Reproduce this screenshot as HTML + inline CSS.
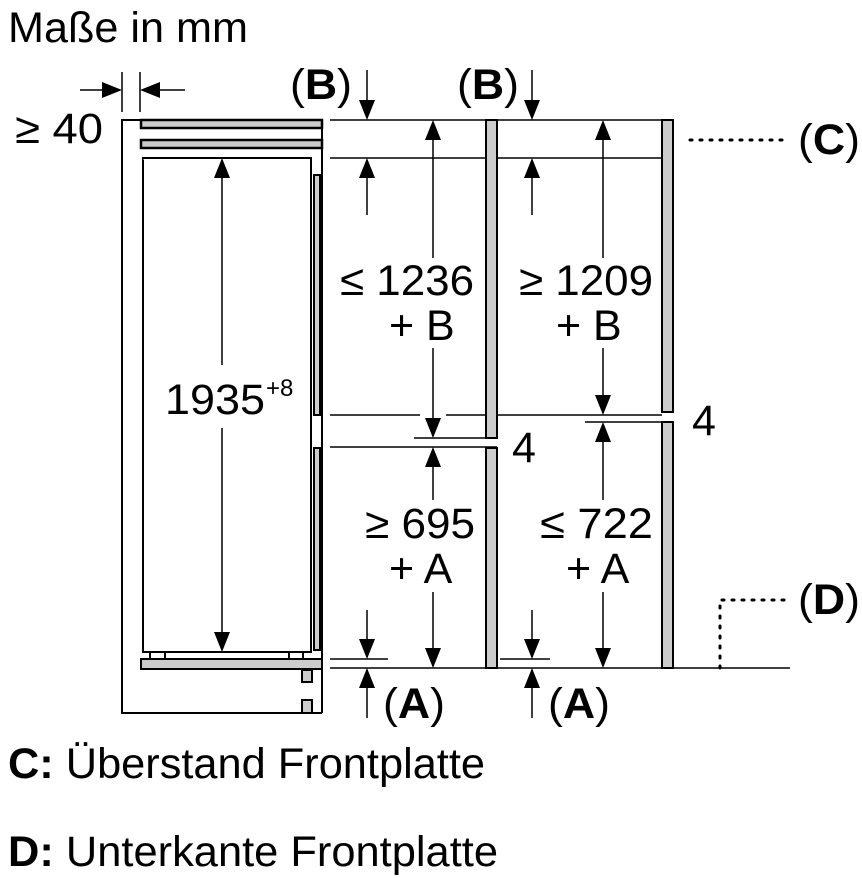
<!DOCTYPE html>
<html><head><meta charset="utf-8"><style>
html,body{margin:0;padding:0;background:#fff}
svg{display:block}
text{font-family:"Liberation Sans",sans-serif;fill:#000}
</style></head><body>
<svg width="862" height="878" viewBox="0 0 862 878" xmlns="http://www.w3.org/2000/svg">
<g stroke="#000" stroke-width="2" fill="none">
<path d="M322 120 H122 V713 H322"/>
<rect x="141" y="120" width="181" height="8" fill="#ccc" stroke-width="2.5"/>
<rect x="141" y="140" width="181" height="8" fill="#ccc" stroke-width="2.5"/>
<line x1="322" y1="120" x2="322" y2="713"/>
<rect x="143" y="158" width="168" height="494"/>
<rect x="314" y="175" width="6" height="240" fill="#ccc"/>
<rect x="314" y="448" width="6" height="202" fill="#ccc"/>
<rect x="150" y="652" width="15" height="7"/>
<rect x="289" y="652" width="14" height="7"/>
<rect x="141" y="659" width="181" height="10" fill="#ccc"/>
<rect x="302" y="670" width="10" height="12" fill="#ccc"/>
<rect x="302" y="700" width="10" height="13" fill="#ccc"/>
<line x1="122" y1="72" x2="122" y2="112" stroke-width="1.5"/>
<line x1="140" y1="72" x2="140" y2="112" stroke-width="1.5"/>
<line x1="80" y1="90" x2="120" y2="90" stroke-width="1.5"/>
<line x1="142" y1="90" x2="185" y2="90" stroke-width="1.5"/>
<line x1="222" y1="160" x2="222" y2="365" stroke-width="1.5"/>
<line x1="222" y1="428" x2="222" y2="650" stroke-width="1.5"/>
<line x1="143" y1="158" x2="210" y2="158" stroke="#fff" stroke-width="3"/>
<line x1="143" y1="158" x2="214" y2="158"/>
<line x1="230" y1="158" x2="311" y2="158"/>
<g stroke-width="1.5">
<line x1="330" y1="120" x2="486" y2="120"/>
<line x1="497" y1="120" x2="662" y2="120"/>
<line x1="330" y1="158" x2="486" y2="158"/>
<line x1="497" y1="158" x2="662" y2="158"/>
<line x1="330" y1="415" x2="420" y2="415"/>
<line x1="446" y1="415" x2="662" y2="415"/>
<line x1="414" y1="438" x2="497" y2="438"/>
<line x1="330" y1="447" x2="497" y2="447"/>
<line x1="585" y1="422" x2="662" y2="422"/>
<line x1="330" y1="659" x2="388" y2="659"/>
<line x1="500" y1="659" x2="550" y2="659"/>
<line x1="330" y1="668" x2="790" y2="668"/>
<line x1="433" y1="125" x2="433" y2="258"/>
<line x1="433" y1="348" x2="433" y2="436"/>
<line x1="433" y1="450" x2="433" y2="500"/>
<line x1="433" y1="592" x2="433" y2="666"/>
<line x1="603" y1="125" x2="603" y2="258"/>
<line x1="603" y1="348" x2="603" y2="410"/>
<line x1="603" y1="425" x2="603" y2="500"/>
<line x1="603" y1="592" x2="603" y2="666"/>
<line x1="367" y1="70" x2="367" y2="116"/>
<line x1="367" y1="162" x2="367" y2="215"/>
<line x1="532" y1="70" x2="532" y2="116"/>
<line x1="532" y1="162" x2="532" y2="215"/>
<line x1="367" y1="610" x2="367" y2="657"/>
<line x1="367" y1="670" x2="367" y2="718"/>
<line x1="532" y1="610" x2="532" y2="657"/>
<line x1="532" y1="670" x2="532" y2="718"/>
</g>
<rect x="486" y="120" width="11" height="318" fill="#ccc"/>
<rect x="486" y="448" width="11" height="220" fill="#ccc"/>
<rect x="662" y="120" width="11" height="292" fill="#ccc"/>
<rect x="662" y="422" width="11" height="246" fill="#ccc"/>
<line x1="690" y1="140" x2="782" y2="140" stroke-width="3" stroke-dasharray="2 8" stroke-linecap="round"/>
<path d="M720 668 V600 H792" stroke-width="3" stroke-dasharray="2 8" stroke-linecap="round"/>
</g>
<g fill="#000">
<polygon points="122,90 102,82 102,98"/>
<polygon points="140,90 160,82 160,98"/>
<polygon points="222,158 214,178 230,178"/>
<polygon points="222,652 214,632 230,632"/>
<polygon points="433,120 425,140 441,140"/>
<polygon points="433,438 425,418 441,418"/>
<polygon points="433,447 425,467 441,467"/>
<polygon points="433,668 425,648 441,648"/>
<polygon points="603,120 595,140 611,140"/>
<polygon points="603,415 595,395 611,395"/>
<polygon points="603,422 595,442 611,442"/>
<polygon points="603,668 595,648 611,648"/>
<polygon points="367,120 359,100 375,100"/>
<polygon points="367,158 359,178 375,178"/>
<polygon points="532,120 524,100 540,100"/>
<polygon points="532,158 524,178 540,178"/>
<polygon points="367,659 359,639 375,639"/>
<polygon points="367,668 359,688 375,688"/>
<polygon points="532,659 524,639 540,639"/>
<polygon points="532,668 524,688 540,688"/>
</g>
<g font-size="43">
<text x="8" y="42" textLength="240" lengthAdjust="spacingAndGlyphs">Maße in mm</text>
<text x="15" y="143" textLength="88" lengthAdjust="spacingAndGlyphs">≥ 40</text>
<text x="165" y="414" textLength="100" lengthAdjust="spacingAndGlyphs">1935</text>
<text x="266" y="396" font-size="24">+8</text>
<text x="340" y="295" textLength="134" lengthAdjust="spacingAndGlyphs">≤ 1236</text>
<text x="389" y="340">+ B</text>
<text x="519" y="295" textLength="134" lengthAdjust="spacingAndGlyphs">≥ 1209</text>
<text x="556" y="340">+ B</text>
<text x="365" y="538" textLength="110" lengthAdjust="spacingAndGlyphs">≥ 695</text>
<text x="389" y="583">+ A</text>
<text x="540" y="538" textLength="113" lengthAdjust="spacingAndGlyphs">≤ 722</text>
<text x="566" y="583">+ A</text>
<text x="512" y="462">4</text>
<text x="692" y="435">4</text>
<text x="290" y="99" textLength="62" lengthAdjust="spacingAndGlyphs">(<tspan font-weight="bold">B</tspan>)</text>
<text x="457" y="99" textLength="62" lengthAdjust="spacingAndGlyphs">(<tspan font-weight="bold">B</tspan>)</text>
<text x="798" y="154" textLength="62" lengthAdjust="spacingAndGlyphs">(<tspan font-weight="bold">C</tspan>)</text>
<text x="798" y="614" textLength="62" lengthAdjust="spacingAndGlyphs">(<tspan font-weight="bold">D</tspan>)</text>
<text x="383" y="718" textLength="62" lengthAdjust="spacingAndGlyphs">(<tspan font-weight="bold">A</tspan>)</text>
<text x="548" y="718" textLength="62" lengthAdjust="spacingAndGlyphs">(<tspan font-weight="bold">A</tspan>)</text>
<text x="8" y="778" textLength="477" lengthAdjust="spacingAndGlyphs"><tspan font-weight="bold">C:</tspan> Überstand Frontplatte</text>
<text x="8" y="866" textLength="490" lengthAdjust="spacingAndGlyphs"><tspan font-weight="bold">D:</tspan> Unterkante Frontplatte</text>
</g>
</svg>
</body></html>
